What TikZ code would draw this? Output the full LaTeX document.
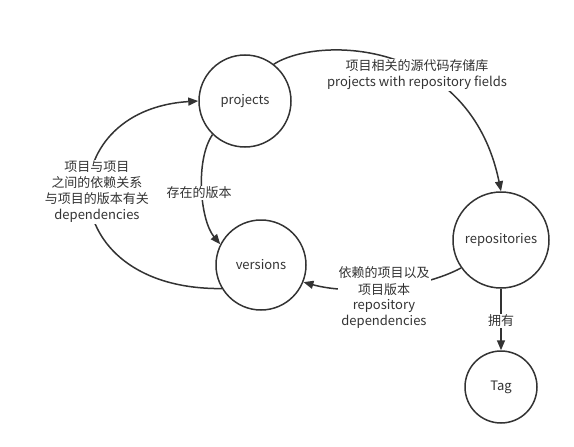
\documentclass[tikz,border=0pt]{standalone}
\usepackage{fontspec}
\setmainfont{Noto Sans CJK SC}
\usetikzlibrary{arrows.meta}
\definecolor{ink}{HTML}{333333}
\tikzset{
  ent/.style={circle, draw=ink, line width=1.5pt, text=ink, inner sep=0pt, font=\fontsize{13}{16}\selectfont},
  lbl/.style={fill=white, text=ink, align=center, inner sep=1pt, font=\fontsize{13}{16}\selectfont},
  link/.style={draw=ink, line width=1.5pt, -{Triangle[length=10pt,width=8pt]}}
}
\begin{document}
\begin{tikzpicture}[x=1pt,y=-1pt]
\useasboundingbox (0,0) rectangle (574,447);
\node[ent, minimum size=92pt] (projects) at (245,101) {projects};
\node[ent, minimum size=90pt] (versions) at (261,265) {versions};
\node[ent, minimum size=96pt] (repositories) at (501,240) {repositories};
\node[ent, minimum size=72pt] (tag) at (501,387) {Tag};

\draw[link] (projects.52) .. controls (320,35) and (470,40) .. (repositories.north);
\draw[link] (projects.226) .. controls (195,160) and (200,220) .. (versions.153);
\draw[link] (versions.211) .. controls (50,290) and (50,110) .. (projects.west);
\draw[link] (repositories.215) .. controls (420,290) and (350,295) .. (versions.-22);
\draw[link] (repositories.south) -- (tag.north);

\node[lbl] (l1) at (417,75) {项目相关的源代码存储库\\projects with repository fields};
\node[lbl] (l2) at (199,193) {存在的版本};
\node[lbl] (l3) at (97,192) {项目与项目\\之间的依赖关系\\与项目的版本有关\\dependencies};
\node[lbl] (l4) at (384,298) {依赖的项目以及\\项目版本\\repository\\dependencies};
\node[lbl] (l5) at (501,321) {拥有};
\end{tikzpicture}
\end{document}
